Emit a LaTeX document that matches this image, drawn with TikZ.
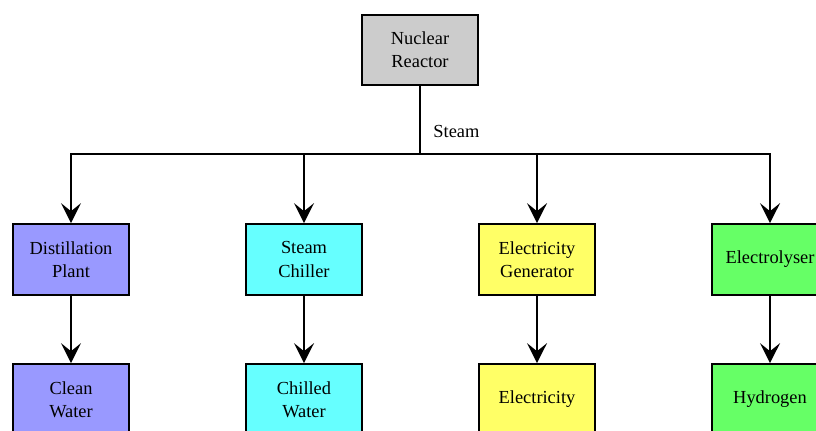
\documentclass[tikz,border=0pt]{standalone}
\usepackage{fontspec}
\setmainfont{Liberation Serif}
\usetikzlibrary{arrows.meta, positioning}
\definecolor{grey}{HTML}{CCCCCC}
\definecolor{mblue}{HTML}{9999FF}
\definecolor{mcyan}{HTML}{66FFFF}
\definecolor{myellow}{HTML}{FFFF66}
\definecolor{mgreen}{HTML}{66FF66}

\tikzset{
	unit/.style={draw=black, line width=1.5pt, minimum width=87pt, minimum height=53pt,
		align=center, font=\fontsize{13.8}{17.3}\selectfont, inner sep=2pt},
	flow/.style={line width=1.5pt, -{Stealth[length=15pt, width=15pt, inset=6pt]}}
}

\begin{document}
\begin{tikzpicture}[x=0.75pt, y=-0.75pt]
	\useasboundingbox (0, 0) rectangle (816, 430);
	\def\bus{154}
	\def\rowa{259.5}
	\def\rowb{399.5}
	
	\node[unit, fill=grey] (reactor) at (420, 50) {Nuclear\\Reactor};
	
	\node[unit, fill=mblue] (dist) at (71, \rowa) {Distillation\\Plant};
	\node[unit, fill=mcyan] (chiller) at (304, \rowa) {Steam\\Chiller};
	\node[unit, fill=myellow] (gen) at (537, \rowa) {Electricity\\Generator};
	\node[unit, fill=mgreen] (lyser) at (770, \rowa) {Electrolyser};
	
	\node[unit, fill=mblue] (water) at (71, \rowb) {Clean\\Water};
	\node[unit, fill=mcyan] (chilled) at (304, \rowb) {Chilled\\Water};
	\node[unit, fill=myellow] (elec) at (537, \rowb) {Electricity};
	\node[unit, fill=mgreen] (hydro) at (770, \rowb) {Hydrogen};
	
	\coordinate (split) at (420, \bus);
	
	\draw[line width=1.5pt] (reactor.south) -- (split)
		node[pos=0.66, right=6pt, font=\fontsize{13.8}{16}\selectfont] (steam) {Steam};
	
	\foreach \a in {dist, chiller, gen, lyser}{
		\draw[flow] (split) -| (\a.north);
	}
	
	\draw[flow] (dist) -- (water);
	\draw[flow] (chiller) -- (chilled);
	\draw[flow] (gen) -- (elec);
	\draw[flow] (lyser) -- (hydro);
\end{tikzpicture}
\end{document}
